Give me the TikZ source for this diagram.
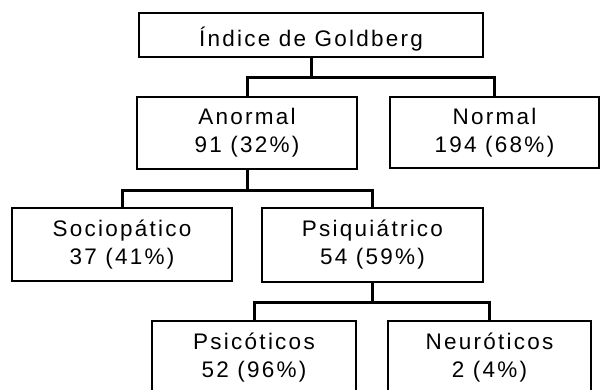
\documentclass[tikz,border=0pt]{standalone}
\usepackage{fontspec}
\setmainfont[LetterSpace=10]{Liberation Sans}
\tikzset{
  caja/.style={draw, line width=1.8pt, inner sep=0pt, align=center,
    font=\fontsize{22.5}{28}\selectfont,
    execute at begin node={\rule{0pt}{27pt}}},
  enlace/.style={line width=3pt}
}
\begin{document}
\begin{tikzpicture}[x=1pt,y=-1pt]
                \clip (0,0) rectangle (600,389);
                \fill[white] (0,0) rectangle (600,389);
                \node[caja, minimum width=344pt, minimum height=44pt] (indice) at (311,35) {Índice de Goldberg};
                \node[caja, minimum width=220pt, minimum height=72pt] (anormal) at (247,133) {Anormal\\91 (32\%)};
                \node[caja, minimum width=209pt, minimum height=71pt] (normal) at (494.5,132.5) {Normal\\194 (68\%)};
                \node[caja, minimum width=220pt, minimum height=73pt] (socio) at (122,244.5) {Sociopático\\37 (41\%)};
                \node[caja, minimum width=221pt, minimum height=74pt] (psiq) at (372.5,245) {Psiquiátrico\\54 (59\%)};
                \node[caja, minimum width=204pt, minimum height=73pt] (psic) at (254,357.5) {Psicóticos\\52 (96\%)};
                \node[caja, minimum width=203pt, minimum height=73pt] (neur) at (489.5,357.5) {Neuróticos\\2 (4\%)};
                \draw[enlace] (indice.south) -- ++(0,20) coordinate (b1);
                \draw[enlace] (anormal.north) |- (b1) -| (normal.north);
                \draw[enlace] (anormal.south) -- ++(0,21) coordinate (b2);
                \draw[enlace] (socio.north) |- (b2) -| (psiq.north);
                \draw[enlace] (psiq.south) -- ++(0,20) coordinate (b3);
                \draw[enlace] (psic.north) |- (b3) -| (neur.north);
            \end{tikzpicture}
\end{document}
